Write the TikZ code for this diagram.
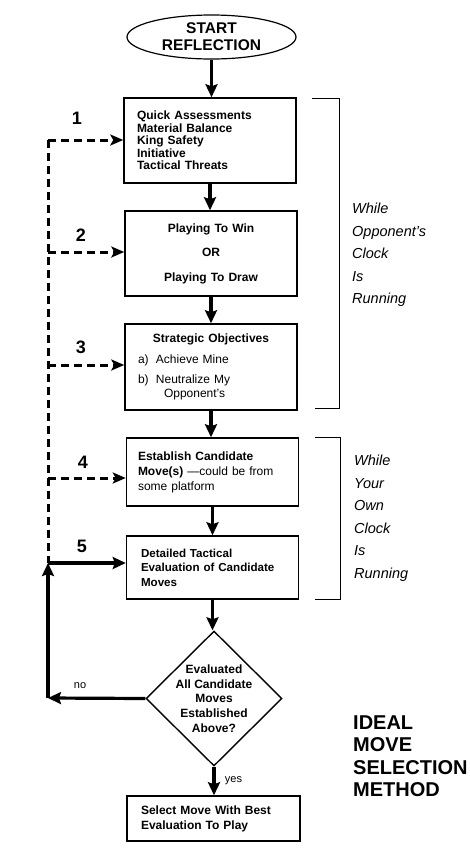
\documentclass[tikz,border=0pt]{standalone}
\usepackage{fontspec}
\setmainfont{Liberation Sans}
\usetikzlibrary{arrows.meta,shapes.geometric}

\begin{document}
\begin{tikzpicture}[x=1pt, y=-1pt,
    box/.style={draw, line width=1.5pt, minimum width=172pt, inner xsep=13pt, inner ysep=0pt,
        text width=146pt, align=left, font=\fontsize{12}{12.5}\selectfont\bfseries},
    decision/.style={draw, diamond, line width=1.4pt, minimum width=136pt, minimum height=135pt, inner sep=0pt},
    flow/.style={line width=3.2pt, -{Stealth[length=13pt,width=12pt,inset=2pt]}},
    dashline/.style={line width=3pt, dash pattern=on 8pt off 5pt},
    dashflow/.style={dashline, -{Stealth[length=13pt,width=11pt,inset=3pt]}},
    bracket/.style={line width=1pt},
    numlabel/.style={font=\fontsize{18}{18}\selectfont\bfseries},
    answer/.style={font=\fontsize{11}{11}\selectfont},
    side/.style={anchor=west, align=left, inner sep=0pt, font=\fontsize{14.5}{22.5}\selectfont\itshape}]

    % Fix the page to the size of the reference
    \useasboundingbox (0,0) rectangle (469,860);

    % Start of the process
    \node[draw, ellipse, line width=1.2pt, minimum width=169pt, minimum height=44pt, inner sep=0pt,
        label={[align=center, font=\fontsize{15.5}{17}\selectfont\bfseries]center:START\\REFLECTION}] (start) at (211.5,37) {};

    % The steps, from top to bottom
    \node[box, minimum height=85pt] (quick) at (210,140.5)
        {Quick Assessments\\Material Balance\\King Safety\\Initiative\\Tactical Threats};
    \node[box, minimum height=85pt, align=center] (goal) at (211,253.5)
        {Playing To Win\\[12pt]OR\\[12pt]Playing To Draw};
    \node[box, minimum height=86pt, font=\fontsize{12}{13.5}\selectfont] (objectives) at (211,367)
        {\makebox[146pt][c]{\bfseries Strategic Objectives}\\[7pt]
         \makebox[18pt][l]{a)}Achieve Mine\\[7pt]
         \makebox[18pt][l]{b)}Neutralize My\\
         \hspace*{26pt}Opponent's};
    \node[box, minimum height=68pt, inner xsep=11pt, text width=149pt, font=\fontsize{12}{15}\selectfont] (candidates) at (212.5,472)
        {\textbf{Establish Candidate}\\\textbf{Move(s)} ---could be from\\some platform};
    \node[box, minimum height=63pt, inner xsep=14pt, text width=143pt, font=\fontsize{11.6}{14.5}\selectfont\bfseries] (tactics) at (212.5,567.5)
        {Detailed Tactical\\Evaluation of Candidate\\Moves};
    \node[decision, label={[align=center, font=\fontsize{12}{14.7}\selectfont\bfseries]center:Evaluated\\All Candidate\\Moves\\Established\\Above?}] (check) at (214,698.5) {};
    \node[box, minimum width=173pt, minimum height=45pt, inner xsep=14pt, text width=145pt, font=\fontsize{12}{15}\selectfont\bfseries] (select) at (213.5,818.5)
        {Select Move With Best\\Evaluation To Play};

    % Main flow
    \draw[flow] (start.south) -- (start.south |- quick.north);
    \draw[flow] (quick.south) -- (quick.south |- goal.north);
    \draw[flow] (goal.south) -- (goal.south |- objectives.north);
    \draw[flow] (objectives.south) -- (objectives.south |- candidates.north);
    \draw[flow] (candidates.south) -- (candidates.south |- tactics.north);
    \draw[flow] (tactics.south) -- (tactics.south |- check.north);
    \draw[flow] (check.south) -- (check.south |- select.north) node[answer, midway, right=6pt] {yes};

    % Loop back on the left
    \coordinate (l1) at (48,140);
    \coordinate (l2) at (48,252);
    \coordinate (l3) at (48,365);
    \coordinate (l4) at (48,478);
    \coordinate (l5) at (48,563);
    \coordinate (back) at (48,698);

    \draw[flow] (check.west) -- (back) node[answer, pos=0.67, above=5pt] {no};
    \draw[flow] (back) -- (l5);
    \draw[flow] (l5) -- (l5 -| tactics.west);
    \draw[dashline] (l1) -- (l5);
    \draw[dashflow] (l1) -- (l1 -| quick.west);
    \draw[dashflow] (l2) -- (l2 -| goal.west);
    \draw[dashflow] (l3) -- (l3 -| objectives.west);
    \draw[dashflow] (l4) -- (l4 -| candidates.west);

    % Step numbers
    \node[numlabel] (n1) at (77,118) {1};
    \node[numlabel] (n2) at (81,235) {2};
    \node[numlabel] (n3) at (81,347) {3};
    \node[numlabel] (n4) at (83,462) {4};
    \node[numlabel] (n5) at (82,546) {5};

    % Brackets and the clocks
    \draw[bracket] (312,98) -- (339,98) -- (339,408) -- (315,408);
    \draw[bracket] (315,437) -- (340,437) -- (340,599) -- (315,599);
    \node[side] (theirclock) at (352,255) {While\\Opponent's\\Clock\\Is\\Running};
    \node[side] (ownclock) at (354,518) {While\\Your\\Own\\Clock\\Is\\Running};

    % Title
    \node[side, font=\fontsize{20}{22.5}\selectfont\bfseries] (title) at (353,756) {IDEAL\\MOVE\\SELECTION\\METHOD};

\end{tikzpicture}
\end{document}
